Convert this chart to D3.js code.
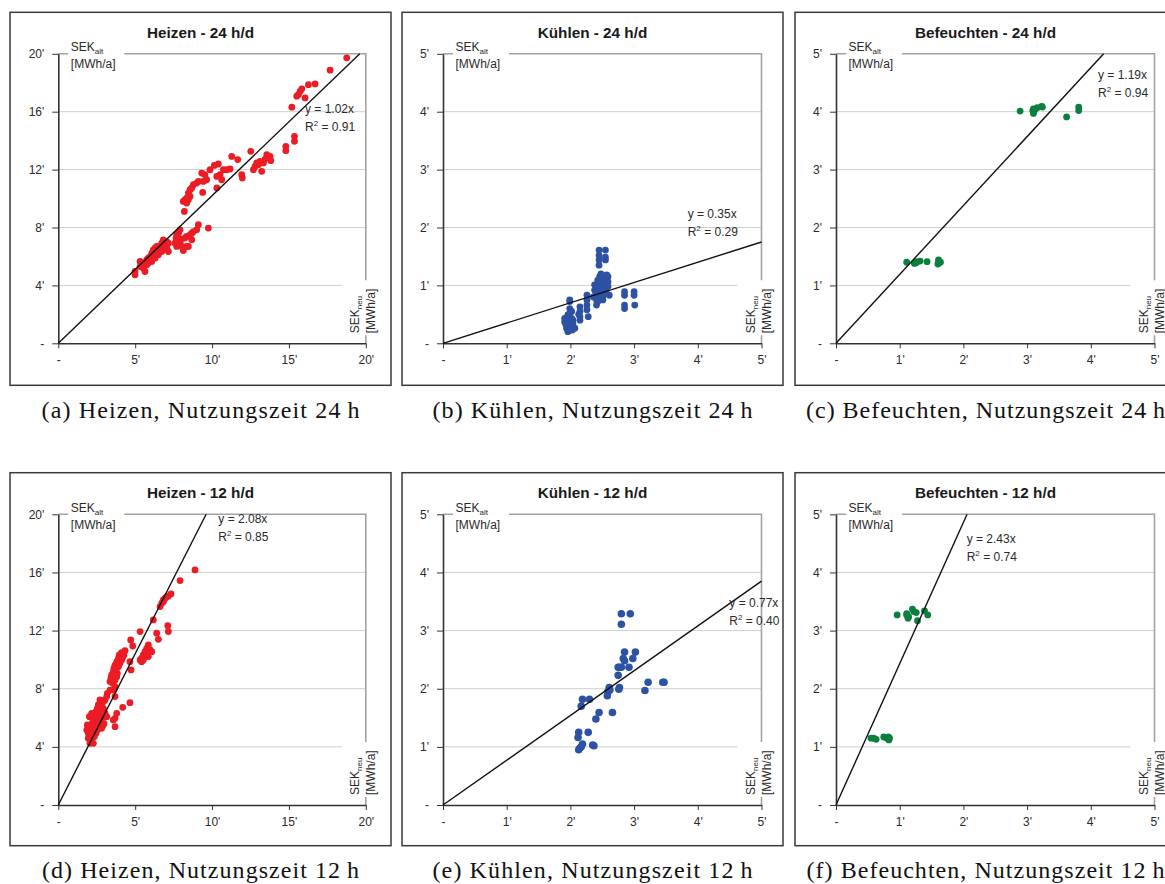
<!DOCTYPE html>
<html>
<head>
<meta charset="utf-8">
<script src="https://cdn.jsdelivr.net/npm/d3@7"></script>
<style>
  body { margin: 0; background: #fff; }
  svg { display: block; }
</style>
</head>
<body>
<svg id="chart" width="1165" height="884"></svg>
<script>
// SEK_neu (x) versus SEK_alt (y), in thousand MWh/a

const heizen24 = [
  [18.76,19.72],[17.68,18.87],[16.70,17.92],[16.27,17.87],[15.84,17.58],[15.73,17.41],[15.62,17.18],[15.51,17.07],
  [16.05,16.95],[15.19,16.31],[15.36,14.30],[15.36,13.95],[14.80,13.61],[14.80,13.31],[12.52,13.26],[11.28,12.91],
  [11.67,12.69],[13.56,13.03],[13.77,12.91],[13.45,12.73],[13.12,12.57],[13.01,12.34],[12.80,12.22],[13.34,12.46],
  [12.69,11.99],[13.23,11.88],[13.82,12.62],[12.91,12.46],
  [10.41,12.39],[10.15,12.29],[9.87,11.99],[10.74,11.99],[10.96,11.99],[10.52,11.65],[10.63,11.30],[10.31,11.53],
  [9.33,11.76],[9.54,11.65],[9.65,11.30],[9.43,11.18],[9.11,11.18],[9.00,11.07],[8.79,10.96],[8.68,10.73],
  [8.57,10.61],[8.46,10.38],[8.57,10.15],[8.35,10.03],[8.24,9.92],[8.35,9.69],[8.13,9.80],[8.46,9.92],
  [8.20,9.11],[9.39,10.42],[10.31,10.73],[11.97,11.42],[11.93,11.65],[11.17,12.04],
  [9.76,7.96],[9.11,8.19],[9.00,7.84],[8.79,7.72],[8.68,7.61],[8.57,7.49],[8.35,7.38],[8.24,7.27],
  [8.03,7.20],[7.92,7.84],[7.81,7.61],[7.70,7.49],[7.66,7.27],[7.81,7.15],[7.92,6.92],[8.03,6.69],
  [7.59,6.92],[8.35,6.69],[8.13,6.41],[7.70,6.69],[8.46,6.69],[8.68,7.15],
  [4.99,4.96],[4.99,4.73],[5.32,5.65],[5.32,5.30],[5.53,5.19],[5.64,4.96],[5.75,5.42],[5.86,5.88],
  [5.97,5.99],[6.08,6.23],[6.18,6.46],[6.29,6.57],[6.40,6.23],[6.51,6.46],[6.62,6.69],[6.73,6.92],
  [6.83,7.15],[6.94,6.80],[7.05,6.57],[7.16,6.34],[7.05,7.03],[6.83,6.57],[6.51,6.11],[6.29,5.88],
  [6.08,5.65],[5.86,5.54],[5.53,5.54],[5.75,5.76],[6.73,6.34],[7.16,6.92],[6.18,6.11],[6.40,6.69],
  [5.97,5.76],[5.42,5.42]
];

const kuehlen24 = [
  [1.91,0.43],[1.91,0.37],[1.93,0.32],[1.94,0.26],[1.96,0.20],[1.99,0.23],[2.02,0.29],[2.04,0.34],
  [2.07,0.26],[1.99,0.40],[1.99,0.52],[1.99,0.60],[1.99,0.72],[1.99,0.75],[2.02,0.55],[1.96,0.49],
  [2.02,0.43],[1.94,0.43],[2.04,0.40],[2.03,0.23],[1.99,0.34],[1.96,0.30],[2.02,0.36],
  [2.15,0.63],[2.15,0.55],[2.15,0.46],[2.15,0.40],[2.13,0.50],
  [2.26,0.83],[2.26,0.75],[2.26,0.66],[2.26,0.58],[2.28,0.46],
  [2.45,1.61],[2.45,1.52],[2.45,1.44],[2.45,1.35],[2.55,1.61],[2.55,1.49],[2.55,1.44],[2.41,0.98],
  [2.41,0.86],[2.41,0.75],[2.41,0.66],[2.38,0.92],[2.46,1.15],[2.46,1.06],[2.46,0.98],[2.49,0.89],
  [2.51,0.80],[2.46,0.78],[2.43,0.72],[2.54,1.01],[2.54,0.92],[2.57,1.09],[2.57,1.18],[2.59,1.15],
  [2.59,1.06],[2.59,0.98],[2.51,0.86],[2.51,0.75],[2.61,0.83],[2.50,1.09],[2.43,1.09],[2.38,1.01],
  [2.48,1.20],[2.53,1.12],[2.44,0.95],[2.49,1.03],[2.56,0.88],[2.36,0.80],[2.40,0.88],
  [2.85,0.89],[2.85,0.83],[2.85,0.66],[2.85,0.60],
  [3.00,0.89],[3.00,0.83],[3.01,0.66]
];

const befeuchten24 = [
  [1.11,1.40],[1.23,1.38],[1.26,1.41],[1.32,1.42],[1.43,1.41],[1.60,1.37],[1.61,1.41],[1.64,1.40],
  [1.61,1.44],[1.26,1.39],
  [2.89,4.01],[3.09,4.02],[3.10,3.97],[3.10,4.05],[3.16,4.07],[3.23,4.09],[3.24,4.08],[3.62,3.91],
  [3.81,4.08],[3.81,4.02],[3.12,4.03]
];

const heizen12 = [
  [8.89,16.17],[7.92,15.44],[7.33,14.52],[7.16,14.38],[7.01,14.29],[6.83,14.11],[6.73,13.88],[6.62,13.65],
  [6.83,13.99],[6.94,14.22],[6.18,12.73],[7.12,12.34],[7.16,11.93],[6.40,11.82],[6.51,11.40],[5.32,11.93],
  [4.71,11.36],[4.84,10.94],
  [5.86,11.01],[5.75,10.78],[5.64,10.55],[5.53,10.32],[5.42,10.10],[5.32,9.98],[5.53,9.98],[5.97,10.67],
  [6.08,10.55],[5.75,10.44],[5.86,10.21],[5.64,10.21],[5.42,9.86],
  [4.66,9.86],[4.73,9.29],[4.66,7.04],[4.19,6.72],
  [4.34,10.62],[4.12,10.48],[3.97,10.32],[3.91,10.09],[3.80,9.86],[3.69,9.63],[3.62,9.41],[3.58,9.18],
  [3.47,8.95],[3.43,8.72],[3.36,8.49],[3.54,8.37],[3.69,8.60],[3.80,8.83],[3.84,9.06],[3.75,9.29],
  [3.91,9.52],[4.01,9.75],[4.12,9.98],[4.19,10.16],[4.27,10.32],[3.69,8.14],[3.58,7.91],[3.69,7.46],
  [3.36,7.91],[3.19,7.68],[3.15,7.46],[3.04,7.23],[2.93,7.11],[2.82,7.00],[2.71,7.23],[2.60,6.88],
  [2.54,6.65],[2.45,6.42],[2.39,6.19],[2.28,5.96],[2.24,5.74],[2.17,5.51],[2.11,5.28],[2.06,5.05],
  [2.02,4.82],[1.95,4.59],[2.17,4.47],[2.28,4.24],[2.06,4.24],[2.34,4.70],[2.45,4.93],[2.54,5.16],
  [2.60,5.39],[2.71,5.62],[2.82,5.85],[2.93,6.08],[3.04,6.31],[2.93,6.65],[2.71,6.31],[2.50,5.85],
  [2.39,5.62],[2.28,5.39],[2.32,5.05],[1.89,5.51],[2.02,6.08],[2.17,6.31],[2.50,6.19],[2.71,5.96],
  [2.82,6.54],[2.97,5.62],[3.15,6.08],[1.85,5.16],[1.95,4.93],[2.93,5.51],[2.82,5.28],
  [3.69,5.39],[3.69,5.96],[3.80,6.31],[3.58,5.85]
];

const kuehlen12 = [
  [2.80,3.29],[2.94,3.29],[2.80,3.11],[2.85,2.63],[3.02,2.63],[2.83,2.52],[2.98,2.52],[2.85,2.48],
  [2.92,2.37],[2.77,2.37],[2.75,2.37],[2.80,2.37],[2.75,2.23],[2.77,2.02],[2.76,1.99],[2.61,2.02],
  [2.59,1.95],[2.62,1.98],[2.58,1.88],[3.22,2.11],[3.45,2.11],[3.47,2.11],[3.17,1.97],[2.66,1.59],
  [2.45,1.59],[2.40,1.48],[2.19,1.82],[2.30,1.82],[2.17,1.70],[2.13,1.25],[2.28,1.25],[2.12,1.16],
  [2.19,1.05],[2.17,1.00],[2.15,0.98],[2.13,0.95],[2.35,1.03],[2.37,1.02]
];

const befeuchten12 = [
  [0.96,3.27],[1.11,3.29],[1.14,3.24],[1.13,3.21],[1.20,3.37],[1.22,3.33],[1.26,3.31],[1.28,3.17],
  [1.39,3.34],[1.44,3.27],[1.11,3.27],
  [0.55,1.15],[0.59,1.15],[0.63,1.13],[0.75,1.17],[0.80,1.15],[0.83,1.12],[0.82,1.17],[0.84,1.15]
];

// regression through the origin: slope and coefficient of determination
const slopes = [1.02, 0.35, 1.19, 2.08, 0.77, 2.43];
const rSquared = ["0.91", "0.29", "0.94", "0.85", "0.40", "0.74"];

const titles = ["Heizen - 24 h/d", "Kühlen - 24 h/d", "Befeuchten - 24 h/d",
                "Heizen - 12 h/d", "Kühlen - 12 h/d", "Befeuchten - 12 h/d"];
const captions = ["(a) Heizen, Nutzungszeit 24\u2009h", "(b) Kühlen, Nutzungszeit 24\u2009h",
                  "(c) Befeuchten, Nutzungszeit 24\u2009h", "(d) Heizen, Nutzungszeit 12\u2009h",
                  "(e) Kühlen, Nutzungszeit 12\u2009h", "(f) Befeuchten, Nutzungszeit 12\u2009h"];

const heizenYTicks = [0, 4, 8, 12, 16, 20];
const heizenYLabels = ["-", "4'", "8'", "12'", "16'", "20'"];
const heizenXTicks = [0, 5, 10, 15, 20];
const heizenXLabels = ["-", "5'", "10'", "15'", "20'"];
const smallTicks = [0, 1, 2, 3, 4, 5];
const smallLabels = ["-", "1'", "2'", "3'", "4'", "5'"];

const colours = { heizen: "#ec1c24", kuehlen: "#2e52a3", befeuchten: "#0b7f3e" };

// ---- layout ----
const svg = d3.select("#chart");
const FONT = "'Liberation Sans', Arial, Helvetica, sans-serif";
const colX = [10, 402, 795];
const rowY = [12.3, 472.7];
const frameW = 381, frameH = 373;

const panels = [
  { data: heizen24, dom: 20, xt: heizenXTicks, xl: heizenXLabels, yt: heizenYTicks, yl: heizenYLabels, col: colours.heizen, eq: [305, 113.3], r: 3.4 },
  { data: kuehlen24, dom: 5, xt: smallTicks, xl: smallLabels, yt: smallTicks, yl: smallLabels, col: colours.kuehlen, eq: [687.7, 218.3], r: 3.4 },
  { data: befeuchten24, dom: 5, xt: smallTicks, xl: smallLabels, yt: smallTicks, yl: smallLabels, col: colours.befeuchten, eq: [1098, 79], r: 3.4 },
  { data: heizen12, dom: 20, xt: heizenXTicks, xl: heizenXLabels, yt: heizenYTicks, yl: heizenYLabels, col: colours.heizen, eq: [218.3, 522.7], r: 3.4 },
  { data: kuehlen12, dom: 5, xt: smallTicks, xl: smallLabels, yt: smallTicks, yl: smallLabels, col: colours.kuehlen, eq: [729.3, 606.7], r: 3.8 },
  { data: befeuchten12, dom: 5, xt: smallTicks, xl: smallLabels, yt: smallTicks, yl: smallLabels, col: colours.befeuchten, eq: [966.7, 543.3], r: 3.4 }
];

panels.forEach((p, i) => {
  const col = i % 3, row = Math.floor(i / 3);
  const fx = colX[col], fy = rowY[row];
  const left = fx + (col === 0 ? 48.3 : 41);
  const width = col === 0 ? 307.5 : 318.5;
  const right = left + width;
  const top = row === 0 ? 53.8 : 514.3;
  const bottom = row === 0 ? 343.3 : 805;

  const x = d3.scaleLinear().domain([0, p.dom]).range([left, right]);
  const y = d3.scaleLinear().domain([0, p.dom]).range([bottom, top]);

  const g = svg.append("g");

  // outer frame
  g.append("rect")
    .attr("x", fx).attr("y", fy).attr("width", frameW).attr("height", frameH)
    .attr("fill", "none").attr("stroke", "#3a3a3a").attr("stroke-width", 1.5);

  // title
  g.append("text")
    .attr("x", fx + frameW / 2).attr("y", fy + 25.5)
    .attr("text-anchor", "middle")
    .attr("font-family", FONT).attr("font-size", 15.3).attr("font-weight", "bold")
    .attr("fill", "#1a1a1a")
    .text(titles[i]);

  // horizontal gridlines
  g.selectAll(".grid").data(p.yt.slice(1, -1)).join("line")
    .attr("x1", left).attr("x2", right)
    .attr("y1", d => y(d)).attr("y2", d => y(d))
    .attr("stroke", "#cfcfcf").attr("stroke-width", 1);

  // upper and right border of the plot area
  g.append("path")
    .attr("d", `M${left},${y(p.dom)}H${x(p.dom)}V${bottom}`)
    .attr("fill", "none").attr("stroke", "#a3a3a3").attr("stroke-width", 1.6);

  // white backing for the axis titles
  g.append("rect")
    .attr("x", left + 10).attr("y", top - 4).attr("width", 56).attr("height", 8)
    .attr("fill", "#fff");
  g.append("rect")
    .attr("x", right - 24).attr("y", bottom - 63).attr("width", 40).attr("height", 55)
    .attr("fill", "#fff");

  // axes
  const yAxis = d3.axisLeft(y).tickValues(p.yt).tickFormat((d, k) => p.yl[k])
    .tickSize(6).tickSizeOuter(0).tickPadding(8);
  const xAxis = d3.axisBottom(x).tickValues(p.xt).tickFormat((d, k) => p.xl[k])
    .tickSize(5).tickSizeOuter(0).tickPadding(7.5);

  const ya = g.append("g").attr("transform", `translate(${left},0)`).call(yAxis);
  const xa = g.append("g").attr("transform", `translate(0,${bottom})`).call(xAxis);
  [ya, xa].forEach(a => {
    a.select(".domain").attr("stroke", "#333").attr("stroke-width", 1.6);
    a.selectAll(".tick line").attr("stroke", "#333").attr("stroke-width", 1);
    a.selectAll(".tick text").attr("font-family", FONT).attr("font-size", 12).attr("fill", "#2a2a2a");
  });

  // y-axis title
  const yt = g.append("text")
    .attr("x", left + 12.5).attr("y", top - 2.5)
    .attr("font-family", FONT).attr("font-size", 12).attr("fill", "#2a2a2a");
  yt.append("tspan").text("SEK");
  yt.append("tspan").attr("font-size", 8).attr("dy", 3).text("alt");
  g.append("text")
    .attr("x", left + 12.5).attr("y", top + 14.5)
    .attr("font-family", FONT).attr("font-size", 12).attr("fill", "#2a2a2a")
    .text("[MWh/a]");

  // x-axis title (rotated)
  const xt1 = g.append("text")
    .attr("transform", `translate(${right - 6.7},${bottom - 10}) rotate(-90)`)
    .attr("font-family", FONT).attr("font-size", 12).attr("fill", "#2a2a2a");
  xt1.append("tspan").text("SEK");
  xt1.append("tspan").attr("font-size", 8).attr("dy", 3).text("neu");
  g.append("text")
    .attr("transform", `translate(${right + 9.5},${bottom - 10}) rotate(-90)`)
    .attr("font-family", FONT).attr("font-size", 12).attr("fill", "#2a2a2a")
    .text("[MWh/a]");

  // data points
  g.selectAll(".pt").data(p.data).join("circle")
    .attr("cx", d => x(d[0])).attr("cy", d => y(d[1]))
    .attr("r", p.r).attr("fill", p.col);

  // trend line y = slope * x, cut at the plot edge
  const xEnd = Math.min(p.dom, p.dom / slopes[i]);
  g.append("line")
    .attr("x1", x(0)).attr("y1", y(0))
    .attr("x2", x(xEnd)).attr("y2", y(slopes[i] * xEnd))
    .attr("stroke", "#111").attr("stroke-width", 1.4);

  // regression equation
  g.append("text")
    .attr("x", p.eq[0]).attr("y", p.eq[1])
    .attr("font-family", FONT).attr("font-size", 12).attr("fill", "#2a2a2a")
    .text(`y = ${slopes[i].toFixed(2)}x`);
  const rt = g.append("text")
    .attr("x", p.eq[0]).attr("y", p.eq[1] + 18)
    .attr("font-family", FONT).attr("font-size", 12).attr("fill", "#2a2a2a");
  rt.append("tspan").text("R");
  rt.append("tspan").attr("font-size", 8).attr("dy", -5).text("2");
  rt.append("tspan").attr("dy", 5).text(` = ${rSquared[i]}`);

  // caption below the frame
  const capW = [318, 320, 359, 317, 320, 358][i];
  g.append("text")
    .attr("x", fx + frameW / 2).attr("y", fy + frameH + 32.5)
    .attr("text-anchor", "middle")
    .attr("font-family", "'Liberation Serif', 'Times New Roman', serif")
    .attr("font-size", 24).attr("fill", "#111")
    .attr("textLength", capW).attr("lengthAdjust", "spacing")
    .text(captions[i]);
});
</script>
</body>
</html>
